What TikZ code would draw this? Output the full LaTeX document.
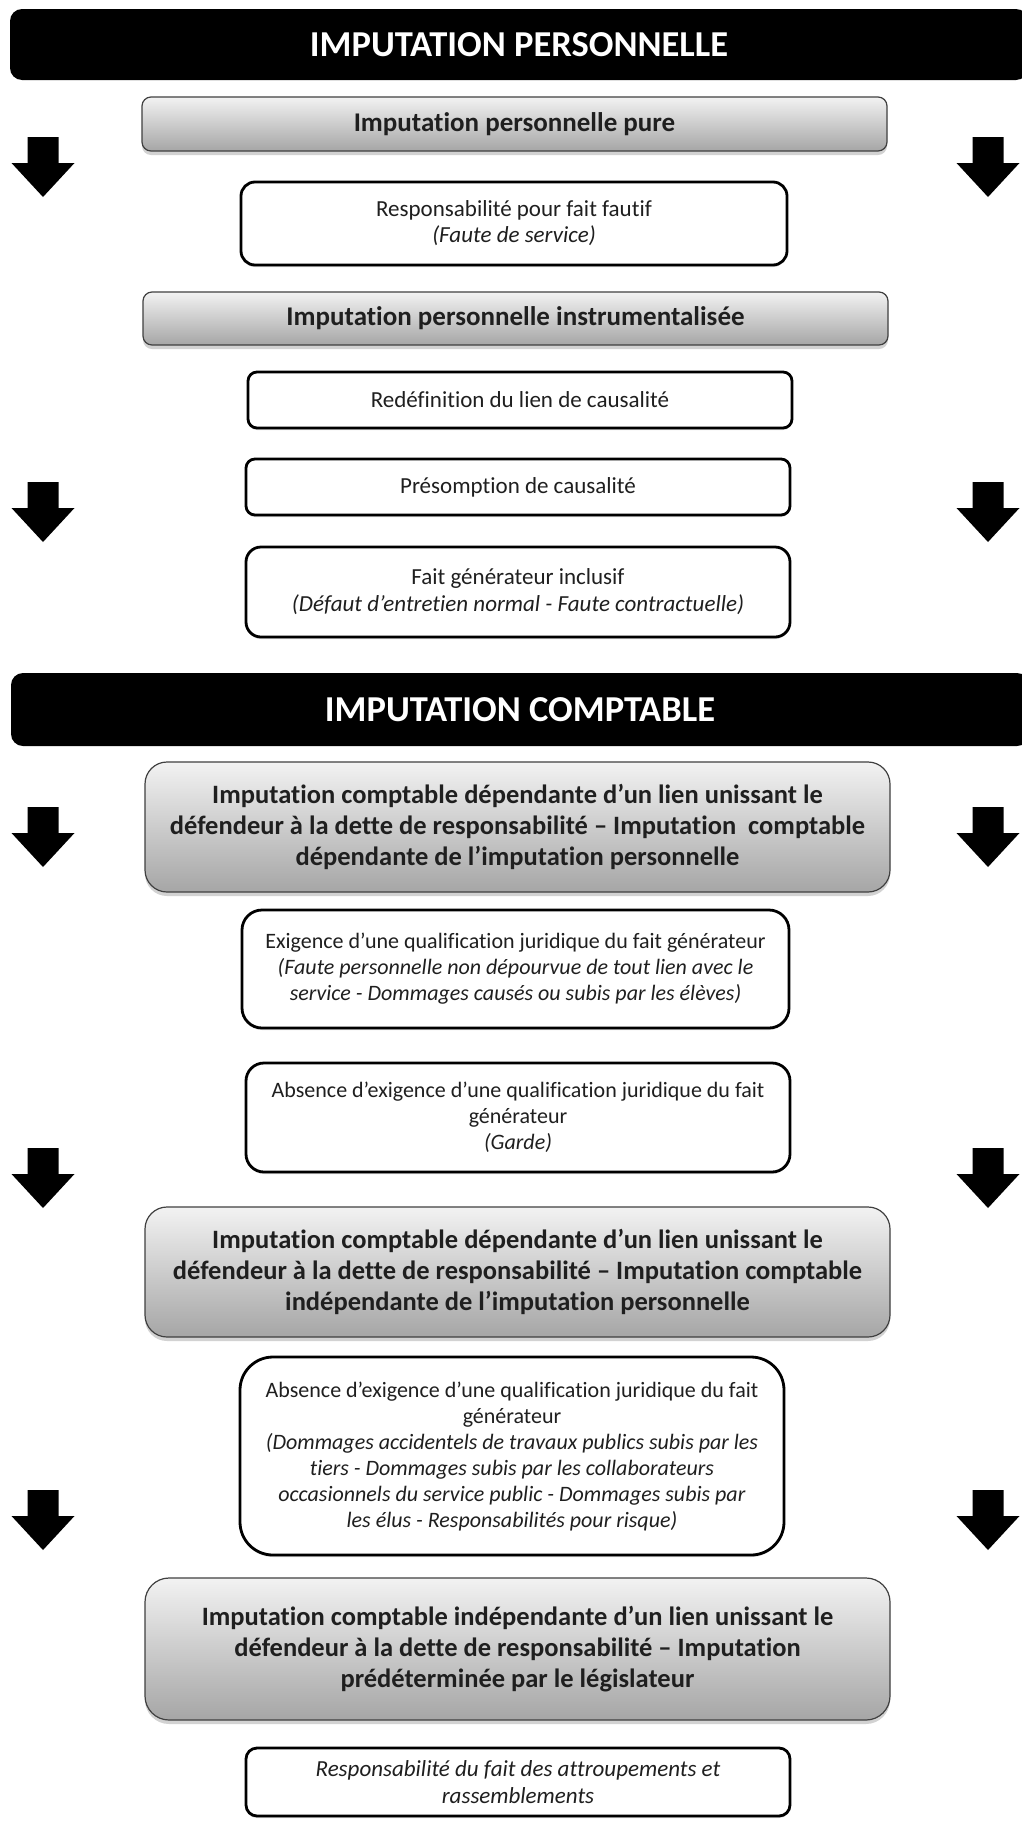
\documentclass[tikz,border=0pt]{standalone}
\usepackage{fontspec}
\setmainfont{Carlito}[Ligatures=NoCommon]
\usetikzlibrary{shadows}
\newcommand{\dnarrow}[2]{\fill[black] (#1-15.5,#2) -- (#1+15.5,#2) -- (#1+15.5,#2+26) -- (#1+31.5,#2+26) -- (#1,#2+60) -- (#1-31.5,#2+26) -- (#1-15.5,#2+26) -- cycle;}
\begin{document}
\begin{tikzpicture}[x=1pt,y=-1pt,
  bar/.style={fill=black, rounded corners=12pt, minimum width=1018pt, inner sep=0pt,
    text=white, font=\fontsize{36.5}{42}\selectfont\bfseries},
  graybox/.style={draw=black!75, line width=1.2pt, top color=black!5, bottom color=black!35,
    minimum width=745pt, inner sep=0pt, align=center, text=black!88,
    drop shadow={shadow xshift=0pt, shadow yshift=-4pt, opacity=0.35}},
  grayfont/.style={font=\fontsize{27}{32}\selectfont\bfseries},
  bigfont/.style={font=\fontsize{26.5}{31}\selectfont\bfseries},
  whitebox/.style={draw=black, line width=2.8pt, fill=white, minimum width=545pt,
    inner sep=0pt, align=center, text=black!88,
    drop shadow={shadow xshift=0pt, shadow yshift=-2pt, opacity=0.3}},
  smallA/.style={font=\fontsize{23}{26}\selectfont},
  smallB/.style={font=\fontsize{22}{26}\selectfont}]
\clip (0,0) rectangle (1022,1823);
\fill[white] (0,0) rectangle (1022,1823);

% section bars
\node[bar, minimum height=71pt] (bar1) at (519,44.5) {IMPUTATION PERSONNELLE};
\node[bar, minimum height=73pt] (bar2) at (520,709.5) {IMPUTATION COMPTABLE};

% part 1
\node[graybox, grayfont, minimum height=54pt, rounded corners=9pt] (pure) at (514.5,124) {Imputation personnelle pure};
\node[whitebox, smallA, minimum height=83pt, minimum width=546pt, rounded corners=14pt] (fautif) at (514,223.5)
  {Responsabilité pour fait fautif\\\textit{(Faute de service)}};
\node[graybox, grayfont, minimum height=53pt, rounded corners=9pt] (instr) at (515.5,318.5) {Imputation personnelle instrumentalisée};
\node[whitebox, smallA, minimum height=56pt, minimum width=544pt, rounded corners=9pt] (redef) at (520,400) {Redéfinition du lien de causalité};
\node[whitebox, smallA, minimum height=56pt, minimum width=544pt, rounded corners=9pt] (presom) at (518,487) {Présomption de causalité};
\node[whitebox, smallA, font=\fontsize{23}{27}\selectfont, minimum height=90pt, minimum width=544pt, rounded corners=15pt] (inclusif) at (518,592)
  {Fait générateur inclusif\\\textit{(Défaut d’entretien normal - Faute contractuelle)}};

% part 2
\node[graybox, bigfont, minimum height=130pt, rounded corners=22pt] (dep1) at (517.5,827)
  {Imputation comptable dépendante d’un lien unissant le\\défendeur à la dette de responsabilité – Imputation\ \ comptable\\dépendante de l’imputation personnelle};
\node[whitebox, smallB, minimum height=118pt, minimum width=547pt, rounded corners=20pt] (exig) at (515.5,969)
  {Exigence d’une qualification juridique du fait générateur\\\textit{(Faute personnelle non dépourvue de tout lien avec le}\\\textit{service - Dommages causés ou subis par les élèves)}};
\node[whitebox, smallB, minimum height=109pt, minimum width=544pt, rounded corners=18pt] (garde) at (518,1117.5)
  {Absence d’exigence d’une qualification juridique du fait\\générateur\\\textit{(Garde)}};
\node[graybox, bigfont, minimum height=130pt, rounded corners=22pt] (dep2) at (517.5,1272)
  {Imputation comptable dépendante d’un lien unissant le\\défendeur à la dette de responsabilité – Imputation comptable\\indépendante de l’imputation personnelle};
\node[whitebox, smallB, minimum height=198pt, minimum width=544pt, rounded corners=33pt] (risque) at (512,1456)
  {Absence d’exigence d’une qualification juridique du fait\\générateur\\\textit{(Dommages accidentels de travaux publics subis par les}\\\textit{tiers - Dommages subis par les collaborateurs}\\\textit{occasionnels du service public - Dommages subis par}\\\textit{les élus - Responsabilités pour risque)}};
\node[graybox, bigfont, minimum height=142pt, rounded corners=24pt] (indep) at (517.5,1649)
  {Imputation comptable indépendante d’un lien unissant le\\défendeur à la dette de responsabilité – Imputation\\prédéterminée par le législateur};
\node[whitebox, font=\fontsize{23}{27}\selectfont, minimum height=68pt, minimum width=544pt, rounded corners=11pt] (attroup) at (518,1782)
  {\textit{Responsabilité du fait des attroupements et}\\\textit{rassemblements}};

% side arrows
\foreach \yy in {137,482,807,1148,1490} {
  \dnarrow{43}{\yy}
  \dnarrow{988}{\yy}
}
\end{tikzpicture}
\end{document}
